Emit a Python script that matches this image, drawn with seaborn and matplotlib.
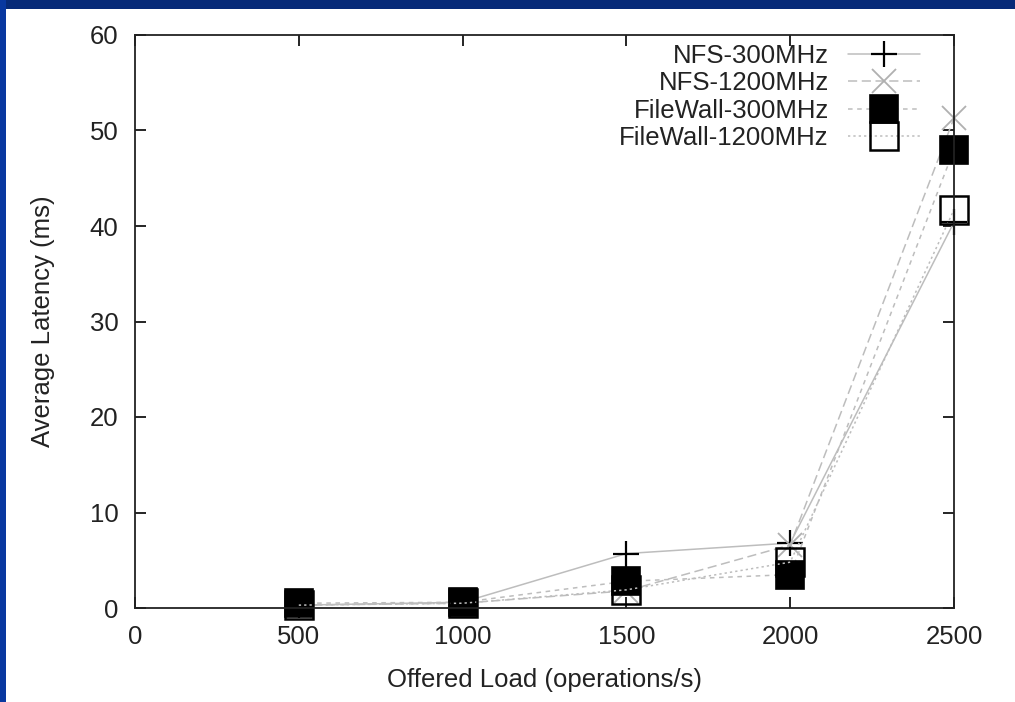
import matplotlib
matplotlib.use("Agg")
import matplotlib.pyplot as plt
from matplotlib.patches import Rectangle
import numpy as np
import pandas as pd
import seaborn as sns

# ---- data ----
offered_load = [500, 1000, 1500, 2000, 2500]
nfs_300 = [0.3, 0.6, 5.7, 6.8, 40.4]
nfs_1200 = [0.3, 0.5, 1.8, 6.6, 51.3]
filewall_300 = [0.5, 0.6, 2.8, 3.5, 48.0]
filewall_1200 = [0.3, 0.5, 1.9, 4.8, 41.7]
series_names = ["NFS-300MHz", "NFS-1200MHz", "FileWall-300MHz", "FileWall-1200MHz"]
x_ticks = [0, 500, 1000, 1500, 2000, 2500]
y_ticks = [0, 10, 20, 30, 40, 50, 60]

sns.set_theme(style="white")
plt.rcParams["font.family"] = ["Liberation Sans", "DejaVu Sans"]

FS = 18.5
fig = plt.figure(figsize=(10.15, 7.02), dpi=100, facecolor="white")
# slide-like navy border (top and left)
fig.patches.append(Rectangle((0, 1 - 9 / 702), 1, 9 / 702, transform=fig.transFigure,
                             facecolor="#062a78", edgecolor="none", zorder=0))
fig.patches.append(Rectangle((0, 0), 6 / 1015, 1, transform=fig.transFigure,
                             facecolor="#0838a0", edgecolor="none", zorder=0))

ax = fig.add_axes([135 / 1015, 1 - 608 / 702, (954 - 135) / 1015, (608 - 35) / 702])
ax.set_facecolor("white")

df = pd.DataFrame({"load": offered_load * 4,
                   "latency": nfs_300 + nfs_1200 + filewall_300 + filewall_1200,
                   "series": np.repeat(series_names, len(offered_load))})

line_gray = "#bdbdbd"
styles = {
    "NFS-300MHz": dict(linestyle="-", marker="+", markersize=19, markeredgewidth=1.6,
                       markeredgecolor="black", markerfacecolor="black"),
    "NFS-1200MHz": dict(linestyle=(0, (6, 3)), marker="x", markersize=17, markeredgewidth=1.3,
                        markeredgecolor="#b0b0b0", markerfacecolor="#b0b0b0"),
    "FileWall-300MHz": dict(linestyle=(0, (3, 3)), marker="s", markersize=20.5, markeredgewidth=1.2,
                            markeredgecolor="black", markerfacecolor="black"),
    "FileWall-1200MHz": dict(linestyle=(0, (1.5, 2)), marker="s", markersize=20.5, markeredgewidth=1.8,
                             markeredgecolor="black", markerfacecolor="none"),
}

for name in series_names:
    sub = df[df["series"] == name]
    sns.lineplot(data=sub, x="load", y="latency", ax=ax, color=line_gray, linewidth=1.1,
                 label=name, errorbar=None, clip_on=False, **styles[name])

ax.set_xlim(0, 2500)
ax.set_ylim(0, 60)
ax.set_xticks(x_ticks)
ax.set_yticks(y_ticks)
ax.set_xticklabels([str(v) for v in x_ticks])
ax.set_yticklabels([str(v) for v in y_ticks])
ax.tick_params(axis="both", which="major", direction="in", length=8, width=1.2,
               color="black", labelsize=FS, labelcolor="#222222",
               top=True, right=True, bottom=True, left=True)
ax.tick_params(axis="y", pad=12)
ax.tick_params(axis="x", pad=12)
for sp in ax.spines.values():
    sp.set_visible(True)
    sp.set_color("#222222")
    sp.set_linewidth(1.3)

ax.set_xlabel("Offered Load (operations/s)", fontsize=FS, color="#222222", labelpad=14)
ax.set_ylabel("Average Latency (ms)", fontsize=FS, color="#222222", labelpad=25)

leg = ax.legend(loc="upper right", bbox_to_anchor=(920 / 1015, 1 - 44 / 702),
                bbox_transform=fig.transFigure, frameon=False, markerfirst=False,
                fontsize=FS, handlelength=2.8, handletextpad=0.75, labelspacing=0.13,
                borderpad=0, borderaxespad=0)
for t in leg.get_texts():
    t.set_color("#222222")
for vp in leg._legend_handle_box.get_children():
    vp.align = "right"

fig.savefig("out.png", dpi=100, facecolor=fig.get_facecolor())
